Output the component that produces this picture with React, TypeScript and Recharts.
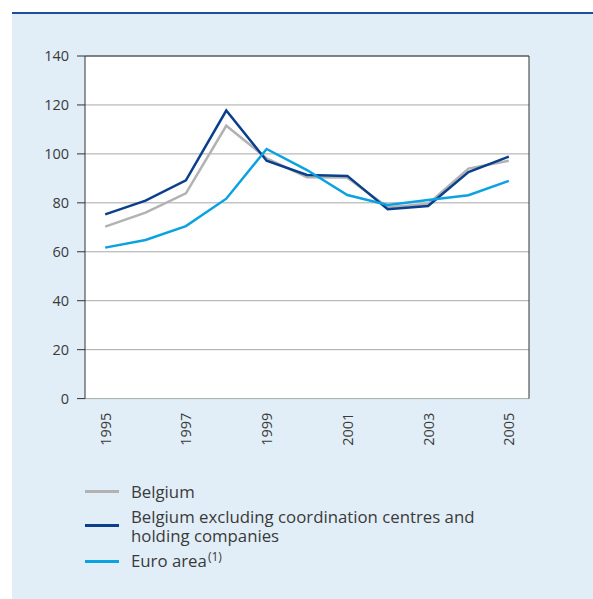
import { LineChart, Line, XAxis, YAxis, CartesianGrid, ReferenceLine } from 'recharts';

// Years on the horizontal axis
const years = [1995, 1996, 1997, 1998, 1999, 2000, 2001, 2002, 2003, 2004, 2005];
const labelYears = [1995, 1997, 1999, 2001, 2003, 2005];
const yTicks = [0, 20, 40, 60, 80, 100, 120, 140];

// Series values (index)
const belgium = [70.3, 76.0, 83.9, 111.5, 98.2, 90.5, 90.3, 78.2, 79.5, 94.0, 97.2];
const belgiumExcl = [75.3, 80.9, 89.2, 117.7, 97.2, 91.4, 91.0, 77.4, 78.7, 92.6, 98.9];
const euroArea = [61.7, 64.8, 70.5, 81.7, 102.0, 93.4, 83.2, 79.1, 81.2, 83.1, 89.0];

const chartData = years.map((year, i) => ({
    year,
    belgium: belgium[i],
    belgiumExcl: belgiumExcl[i],
    euroArea: euroArea[i]
}));

// tick marks sit between the years
const boundaryTicks = [...years.map(y => y - 0.5), years[years.length - 1] + 0.5];

const FONT = '"Open Sans", "DejaVu Sans", sans-serif';
const TEXT = '#3a3a3a';
const GREY = '#b2b2b2';
const DARK_BLUE = '#0b3f8c';
const LIGHT_BLUE = '#0aa2e0';

const EmptyTick = () => <g />;

const YearTick = ({ x, y, payload }: any) => (
    <text
        transform={`translate(${x},${y + 14}) rotate(-90)`}
        textAnchor="end"
        dominantBaseline="central"
        fill={TEXT}
        fontSize={14.5}
        fontFamily={FONT}
    >
        {payload.value}
    </text>
);

const legendItems = [
    { color: GREY, label: <>Belgium</> },
    { color: DARK_BLUE, label: <>Belgium excluding coordination centres and<br />holding companies</> },
    { color: LIGHT_BLUE, label: <>Euro area<span style={{ fontSize: 12, position: 'relative', top: -6, marginLeft: 1 }}>(1)</span></> }
];

export default function App() {
    return (
        <div style={{ position: 'absolute', left: 0, top: 0, width: 593, height: 599, background: '#fff', fontFamily: FONT }}>
            <div style={{ position: 'absolute', left: 12, top: 12, width: 581, height: 2, background: '#1d4f9b' }} />
            <div style={{ position: 'absolute', left: 12, top: 14, width: 581, height: 585, background: '#e1eef7' }} />

            <div style={{ position: 'absolute', left: 0, top: 0 }}>
                <LineChart
                    width={593}
                    height={460}
                    data={chartData}
                    margin={{ top: 56, right: 14, bottom: 11.4, left: 35 }}
                >
                    <CartesianGrid
                        xAxisId="a"
                        yAxisId="left"
                        vertical={false}
                        fill="#ffffff"
                        stroke="#a8a8a8"
                        strokeWidth={1}
                    />
                    <XAxis
                        xAxisId="a"
                        dataKey="year"
                        type="number"
                        domain={[1994.5, 2005.5]}
                        ticks={boundaryTicks}
                        interval={0}
                        height={0}
                        tickSize={-7}
                        tick={<EmptyTick />}
                        stroke="#333"
                        axisLine={{ stroke: '#333' }}
                        tickLine={{ stroke: '#333' }}
                    />
                    <XAxis
                        xAxisId="b"
                        dataKey="year"
                        type="number"
                        domain={[1994.5, 2005.5]}
                        ticks={labelYears}
                        interval={0}
                        height={50}
                        axisLine={false}
                        tickLine={false}
                        tickSize={0}
                        tickMargin={0}
                        tick={<YearTick />}
                    />
                    <YAxis
                        yAxisId="left"
                        domain={[0, 140]}
                        ticks={yTicks}
                        interval={0}
                        width={50}
                        tickSize={8}
                        tickMargin={8}
                        axisLine={{ stroke: '#333' }}
                        tickLine={{ stroke: '#333' }}
                        tick={{ fill: TEXT, fontSize: 14.5, fontFamily: FONT }}
                    />
                    <YAxis
                        yAxisId="right"
                        orientation="right"
                        domain={[0, 140]}
                        ticks={yTicks}
                        interval={0}
                        width={50}
                        tickSize={8}
                        tickMargin={8}
                        axisLine={{ stroke: '#333' }}
                        tickLine={{ stroke: '#333' }}
                        tick={{ fill: TEXT, fontSize: 14.5, fontFamily: FONT, textAnchor: 'start' }}
                    />
                    <ReferenceLine xAxisId="a" yAxisId="left" y={140} stroke="#333" />
                    <Line
                        xAxisId="a"
                        yAxisId="left"
                        type="linear"
                        dataKey="belgium"
                        stroke={GREY}
                        strokeWidth={2.5}
                        dot={false}
                        isAnimationActive={false}
                    />
                    <Line
                        xAxisId="a"
                        yAxisId="left"
                        type="linear"
                        dataKey="belgiumExcl"
                        stroke={DARK_BLUE}
                        strokeWidth={2.5}
                        dot={false}
                        isAnimationActive={false}
                    />
                    <Line
                        xAxisId="a"
                        yAxisId="left"
                        type="linear"
                        dataKey="euroArea"
                        stroke={LIGHT_BLUE}
                        strokeWidth={2.5}
                        dot={false}
                        isAnimationActive={false}
                    />
                </LineChart>
            </div>

            {/* legend */}
            <div style={{ position: 'absolute', left: 85, top: 481.5, color: TEXT, fontSize: 16.8, lineHeight: '19px' }}>
                {legendItems.map((item, i) => (
                    <div key={i} style={{ display: 'flex', alignItems: 'center', marginBottom: 6 }}>
                        <span style={{ display: 'inline-block', width: 34, height: 3, background: item.color, marginRight: 12, flexShrink: 0 }} />
                        <span style={{ whiteSpace: 'nowrap' }}>{item.label}</span>
                    </div>
                ))}
            </div>
        </div>
    );
}
